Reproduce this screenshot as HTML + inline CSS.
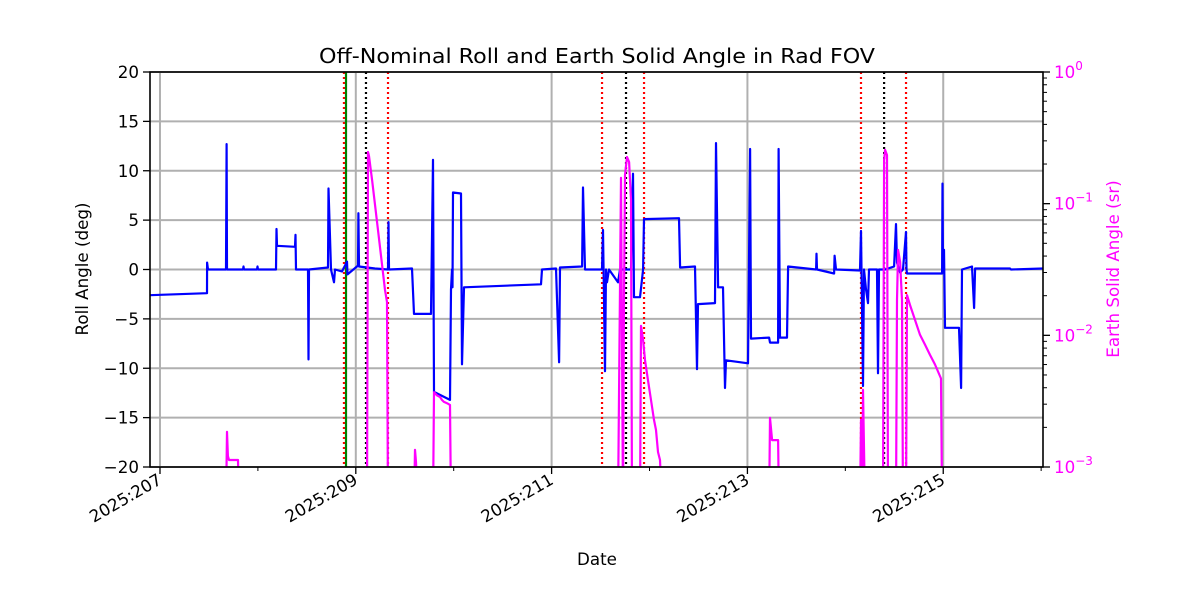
<!DOCTYPE html>
<html><head><meta charset="utf-8"><style>
body{margin:0;background:#fff}
svg text{font-family:"DejaVu Sans","Liberation Sans",sans-serif}
</style></head><body>
<svg id="c" width="1200" height="600" viewBox="0 0 1200 600" xmlns="http://www.w3.org/2000/svg">
<defs><clipPath id="plotclip"><rect x="150" y="72" width="893" height="395"/></clipPath></defs>
<rect width="1200" height="600" fill="#fff"/>
<g id="grid"></g>
<g id="events" clip-path="url(#plotclip)"></g>
<g id="series" clip-path="url(#plotclip)"></g>
<g id="axes"></g>
<text x="597" y="63" text-anchor="middle" font-size="20" textLength="556" lengthAdjust="spacingAndGlyphs">Off-Nominal Roll and Earth Solid Angle in Rad FOV</text>
<text x="597" y="565" text-anchor="middle" font-size="16.7">Date</text>
<text transform="translate(88,269) rotate(-90)" text-anchor="middle" font-size="16.7">Roll Angle (deg)</text>
<text transform="translate(1119,269) rotate(-90)" text-anchor="middle" font-size="16.7" fill="#ff00ff">Earth Solid Angle (sr)</text>
</svg>
<script>
// time in days after 2025:207
const rollT = [
-0.102,0.480,0.481,0.490,0.674,0.680,0.684,0.848,0.853,0.858,
0.991,0.996,1.001,1.185,1.190,1.195,1.379,1.384,1.389,1.512,
1.517,1.522,1.716,1.721,1.747,1.777,1.788,1.859,1.869,1.910,
1.915,2.022,2.027,2.033,2.196,2.329,2.334,2.339,2.574,2.594,
2.768,2.789,2.799,2.962,2.972,2.983,2.988,2.993,3.075,3.085,
3.105,3.892,3.902,4.045,4.076,4.086,4.311,4.321,4.341,4.515,
4.525,4.545,4.556,4.566,4.586,4.678,4.699,4.811,4.831,4.842,
4.903,4.934,4.944,5.301,5.312,5.465,5.485,5.495,5.669,5.679,
5.700,5.751,5.771,5.781,6.006,6.027,6.037,6.221,6.231,6.313,
6.318,6.333,6.404,6.415,6.701,6.706,6.711,6.885,6.890,6.905,
7.150,7.160,7.181,7.191,7.211,7.232,7.242,7.324,7.334,7.344,
7.406,7.498,7.518,7.528,7.559,7.589,7.620,7.625,7.630,7.988,
7.993,7.998,8.008,8.018,8.161,8.182,8.192,8.294,8.315,8.325,
8.682,8.692,9.019];
const rollDeg = [
-2.6,-2.4,0.7,0,0,12.7,0,0,0.3,0,
0,0.3,0,0,4.1,2.4,2.3,3.5,0,0,
-9.1,0,0.2,8.2,0,-1.3,0,-0.2,0,0.8,
-0.5,0.4,5.7,0.3,0.1,0,4.8,0,0.1,-4.5,
-4.5,11.1,-12.4,-13.2,-2,0,-1.8,7.8,7.7,-9.6,
-1.8,-1.5,0,0.1,-9.4,0.2,0.3,8.3,0,0,
4,-10.3,0,-1.3,0,-1.3,0,0,9.7,-2.8,
-2.8,0,5.1,5.2,0.2,0.3,-10.1,-3.5,-3.4,12.8,
-1.8,-1.8,-12,-9.2,-9.5,12.2,-7,-6.9,-7.4,-7.4,
12.2,-6.9,-6.9,0.3,0,1.6,0,-0.4,1.4,0,
-0.1,3.9,-11.8,0,-2,-3.4,0,0,-10.5,0,
0,0.3,4.6,0.7,-0.3,0,3.8,0,-0.4,-0.4,
8.7,-0.1,2,-5.9,-5.9,-12,0,0.3,-3.9,0.1,
0.1,0,0.1];
// Earth solid angle segments (null = gap)
const solidT = [
0.674,0.684,0.694,0.705,0.797,0.807,null,
2.114,2.125,2.135,2.166,2.227,2.298,2.319,2.329,null,
2.594,2.605,2.615,2.635,null,
2.789,2.799,2.829,2.860,2.880,2.901,2.932,2.962,2.972,null,
4.678,4.709,4.729,4.739,4.750,4.770,4.791,4.811,4.821,null,
4.903,4.913,4.934,4.954,4.984,5.015,5.046,5.066,5.087,5.107,5.128,null,
6.221,6.231,6.252,6.313,6.323,null,
7.150,7.160,7.171,7.181,7.201,null,
7.385,7.396,7.406,7.426,7.436,null,
7.518,7.528,7.539,7.559,7.579,7.589,null,
7.620,7.630,7.661,7.712,7.763,7.814,7.865,7.916,7.977,7.988];
const solidSr = [
0.0005,0.00185,0.00121,0.00113,0.00113,0.0005,null,
0.0005,0.247,0.230,0.151,0.063,0.0221,0.0179,0.0005,null,
0.0005,0.00135,0.00109,0.0005,null,
0.0005,0.0037,0.0035,0.0034,0.00323,0.00312,0.00305,0.00296,0.0005,null,
0.0005,0.157,0.0005,0.0185,0.165,0.226,0.207,0.107,0.0005,null,
0.0005,0.0118,0.0092,0.0065,0.0046,0.00323,0.00228,0.00191,0.0013,0.00113,0.0005,null,
0.0005,0.00236,0.0016,0.0016,0.0005,null,
0.0005,0.00228,0.0005,0.00385,0.0005,null,
0.0005,0.215,0.256,0.234,0.0005,null,
0.0005,0.0185,0.0445,0.0361,0.0185,0.0005,null,
0.0005,0.0202,0.0170,0.0131,0.0101,0.0085,0.0071,0.0060,0.0047,0.0005];
const redEvents = [1.879,2.329,4.515,4.944,7.160,7.620];
const blackEvents = [2.104,4.760,7.396];
const greenEvents = [1.900];
const xTickDays = [0,2,4,6,8];
const xTickLabels = ["2025:207","2025:209","2025:211","2025:213","2025:215"];
const yTicks = [-20,-15,-10,-5,0,5,10,15,20];
const rightDecades = [-3,-2,-1,0];

const L=150,R=1043,T=72,B=467,NS="http://www.w3.org/2000/svg";
const X0=-0.102,X1=9.019;
const sx=d=>L+(d-X0)/(X1-X0)*(R-L);
const sy=v=>T+(20-v)/40*(B-T);
const sr=v=>T+(0-Math.log10(v))/3*(B-T);
function el(tag,attrs,parent,text){const e=document.createElementNS(NS,tag);for(const k in attrs)e.setAttribute(k,attrs[k]);if(text!==undefined)e.textContent=text;parent.appendChild(e);return e;}
const grid=document.getElementById('grid'),axes=document.getElementById('axes'),series=document.getElementById('series'),events=document.getElementById('events');
xTickDays.forEach((d,i)=>{
  const g=el('line',{x1:sx(d),x2:sx(d),y1:T,y2:B,stroke:'#b0b0b0','stroke-width':2},grid);
  
  
  el('line',{x1:sx(d),x2:sx(d),y1:B,y2:B+7,stroke:'#000','stroke-width':1.3},axes);
  const t=el('text',{transform:`translate(${sx(d)+3},${B+16}) rotate(-30)`,'text-anchor':'end','font-size':16.7},axes,xTickLabels[i]);
  
  
});
for(let d=1;d<=9;d+=2){el('line',{x1:sx(d),x2:sx(d),y1:B,y2:B+4,stroke:'#000','stroke-width':1},axes);}
yTicks.forEach(v=>{
  const g=el('line',{x1:L,x2:R,y1:sy(v),y2:sy(v),stroke:'#b0b0b0','stroke-width':2},grid);
  
  
  el('line',{x1:L-7,x2:L,y1:sy(v),y2:sy(v),stroke:'#000','stroke-width':1.3},axes);
  const t=el('text',{x:L-11,y:sy(v)+6,'text-anchor':'end','font-size':16.7},axes,String(v).replace('-','\u2212'));
  
  
});
rightDecades.forEach(p=>{
  const y=sr(Math.pow(10,p));
  el('line',{x1:R,x2:R+7,y1:y,y2:y,stroke:'#000','stroke-width':1.3},axes);
  const t=el('text',{x:R+11,y:y+6,'font-size':16.7,fill:'#ff00ff'},axes,'10');
  el('tspan',{dy:-8,'font-size':12},t,String(p).replace('-','\u2212'));
  
  
  if(p<0){for(let m=2;m<=9;m++){const yy=sr(m*Math.pow(10,p));el('line',{x1:R,x2:R+4,y1:yy,y2:yy,stroke:'#000','stroke-width':1},axes);}}
});
function vlines(arr,color,dash,name){arr.forEach(d=>{const l=el('line',{x1:sx(d),x2:sx(d),y1:T,y2:B,stroke:color,'stroke-width':2.2,'stroke-dasharray':dash},events);
  
  });}
vlines(redEvents,'#ff0000','2 3','red-event-line');
vlines(blackEvents,'#000','2 3','black-event-line');
vlines(greenEvents,'#008000','none','green-event-line');
let dr='';rollT.forEach((t,i)=>{dr+=(i?'L':'M')+sx(t).toFixed(1)+','+sy(rollDeg[i]).toFixed(1);});
const rp=el('path',{d:dr,fill:'none',stroke:'#0000ff','stroke-width':2.2,'stroke-linejoin':'round'},series);


let dm='',pen=false;solidT.forEach((t,i)=>{if(t===null){pen=false;return;}dm+=(pen?'L':'M')+sx(t).toFixed(1)+','+sr(solidSr[i]).toFixed(1);pen=true;});
const mp=el('path',{d:dm,fill:'none',stroke:'#ff00ff','stroke-width':2.2,'stroke-linejoin':'round'},series);


const fr=el('rect',{x:L,y:T,width:R-L,height:B-T,fill:'none',stroke:'#000','stroke-width':1.6},axes);


</script>
</body></html>
